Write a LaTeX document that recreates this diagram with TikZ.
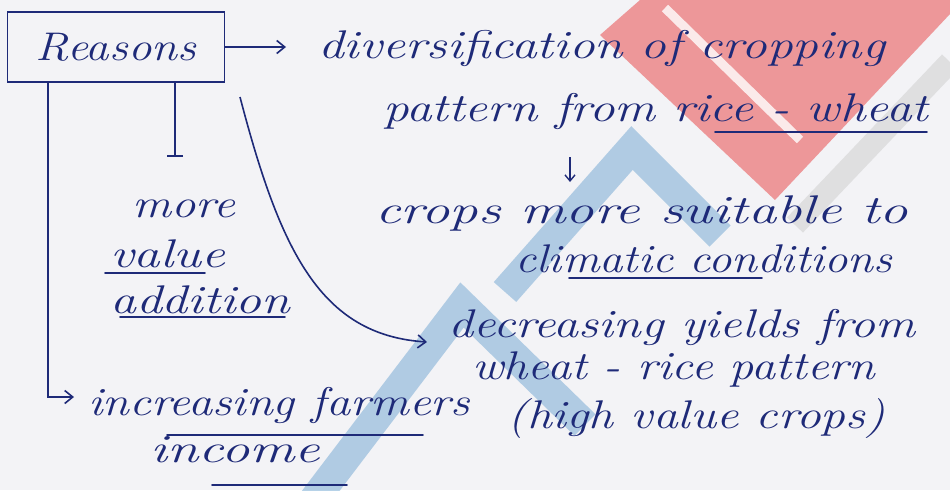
\documentclass[tikz,border=0pt]{standalone}
\usepackage{tikz}
\usetikzlibrary{arrows.meta,positioning,calc}
\definecolor{ink}{RGB}{30,42,120}
\definecolor{paper}{RGB}{243,243,246}
\definecolor{wmred}{RGB}{236,128,130}
\definecolor{wmblue}{RGB}{110,165,210}
% stretch a line of text to the width of the handwriting
\newcommand{\hand}[2]{\resizebox{#1pt}{\height}{#2}}

\begin{document}
\begin{tikzpicture}[
  x=1pt, y=-1pt,
  line/.style={draw=ink, line width=1.6pt},
  harrow/.style={-{Straight Barb[length=8pt,width=13pt,line width=1.6pt]}},
  note/.style={anchor=base west, inner sep=0pt, text=ink,
               font=\fontsize{40}{48}\selectfont\itshape},
  uline/.style={draw=ink, line width=1.8pt, line cap=round},
  wm/.style={line width=30pt, opacity=0.5}]

\useasboundingbox (0,0) rectangle (950,490);
\fill[paper] (0,0) rectangle (950,490);

% ================= watermark ===============================================
\begin{scope}
  \clip (0,0) rectangle (950,490);
  \fill[wmred, opacity=0.8] (600,35) -- (640,0) -- (950,0) -- (950,14) -- (775,200) -- cycle;
  \draw[white, line width=9pt, opacity=0.8] (665,8) -- (800,140);
  \draw[gray!40, line width=22pt, opacity=0.5] (795,225) -- (950,62);
  \draw[wm, draw=wmblue] (310,505) -- (462,305) -- (585,425);
  \draw[wm, draw=wmblue] (505,292) -- (632,148) -- (720,236);
\end{scope}

% ================= box and its branches ====================================
\node[line, minimum width=217pt, minimum height=70pt, inner sep=0pt, text=ink,
      font=\fontsize{40}{48}\selectfont\itshape] (reasons) at (116,47) {\hand{160}{Reasons}};

\node[note] (divers)    at (318,58)  {\hand{567}{diversification of cropping}};
\node[note] (pattern)   at (383,121) {\hand{545}{pattern from rice - wheat}};
\node[note] (crops)     at (375,223) {\hand{533}{crops more suitable to}};
\node[note] (climatic)  at (515,272) {\hand{377}{climatic conditions}};
\node[note] (decr)      at (448,337) {\hand{467}{decreasing yields from}};
\node[note] (wheatrice) at (472,379) {\hand{403}{wheat - rice pattern}};
\node[note] (high)      at (507,428) {\hand{378}{(high value crops)}};

\node[note] (more)      at (132,217) {\hand{103}{more}};
\node[note] (value)     at (110,267) {\hand{115}{value}};
\node[note] (addition)  at (110,313) {\hand{180}{addition}};
\node[note] (incr)      at (88,415)  {\hand{382}{increasing farmers}};
\node[note] (income)    at (150,462) {\hand{170}{income}};

% free ends of the connectors
\coordinate (divtip)     at (286,47);
\coordinate (valbar)     at (175,157);
\coordinate (incrtip)    at (74,397);
\coordinate (curvestart) at (240,97);
\coordinate (decrtip)    at (427,342);
\coordinate (fromtail)   at (570,157);
\coordinate (cropstip)   at (570,182);

\draw[line, harrow] (reasons.east) -- (divtip);
\draw[line, -{Bar[width=16pt,line width=1.6pt]}] ([xshift=59pt]reasons.south) -- (valbar);
\draw[line, harrow] ([xshift=-68pt]reasons.south) |- (incrtip);
\draw[line, harrow] (curvestart) .. controls (280,250) and (320,335) .. (decrtip);
\draw[line, -{Straight Barb[length=6pt,width=10pt,line width=1.4pt]}] (fromtail) -- (cropstip);

% underlines
\draw[uline] (715,132) -- (927,132);
\draw[uline] (569,278) -- (762,278);
\draw[uline] (105,273) -- (205,273);
\draw[uline] (120,317) -- (285,317);
\draw[uline] (167,435) -- (423,435);
\draw[uline] (212,485) -- (347,485);

\end{tikzpicture}
\end{document}
